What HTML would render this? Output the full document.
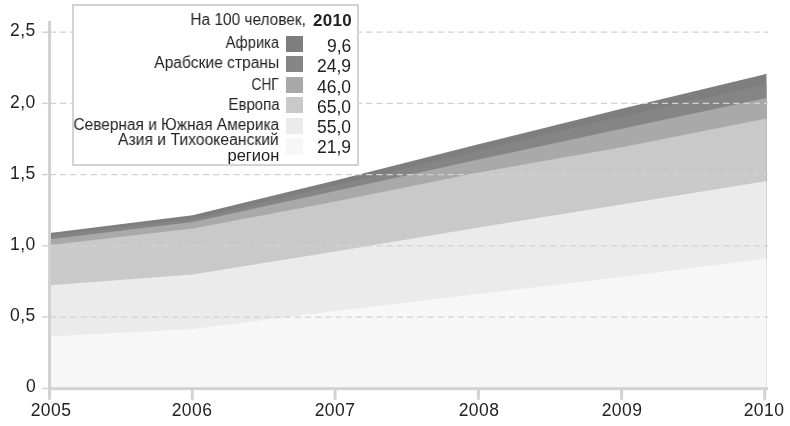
<!DOCTYPE html>
<html><head><meta charset="utf-8"><style>
html,body{margin:0;padding:0;background:#fff;width:790px;height:426px;overflow:hidden;}
body{position:relative;font-family:"Liberation Sans",sans-serif;color:#222;}
.yl,.xl,.lab,.val,.title,.t2010{will-change:transform;}
svg{position:absolute;left:0;top:0;}
.yl{position:absolute;right:754px;font-size:17.5px;line-height:17.5px;white-space:nowrap;letter-spacing:0.4px;}
.xl{position:absolute;width:60px;text-align:center;font-size:17.5px;line-height:17.5px;letter-spacing:0.4px;}
.legend{position:absolute;left:72px;top:4px;width:283px;height:158px;border:2px solid #d3d3d3;background:#fff;}
.lab{position:absolute;right:510.8px;font-size:16px;line-height:16px;white-space:nowrap;transform-origin:100% 50%;}
.val{position:absolute;right:439px;font-size:17.5px;line-height:17.5px;text-align:right;white-space:nowrap;}
.sw{position:absolute;left:286.3px;width:16.5px;height:16.6px;}
.title{position:absolute;right:484px;font-size:16px;line-height:16px;white-space:nowrap;transform-origin:100% 50%;}
.t2010{position:absolute;right:438px;font-size:17px;line-height:17px;font-weight:bold;letter-spacing:0.3px;white-space:nowrap;}
</style></head><body>
<svg width="790" height="426" viewBox="0 0 790 426">
<polygon points="50,233.0 192.6,215.2 335.3,180.6 478.5,144.2 621.7,108.8 766.5,73.8 766.5,388.5 621.7,388.5 478.5,388.5 335.3,388.5 192.6,388.5 50,388.5" fill="#7e7e7e"/>
<polygon points="50,235.5 192.6,219.0 335.3,185.5 478.5,150.5 621.7,116.4 766.5,84.5 766.5,388.5 621.7,388.5 478.5,388.5 335.3,388.5 192.6,388.5 50,388.5" fill="#858585"/>
<polygon points="50,239.2 192.6,222.0 335.3,190.9 478.5,159.5 621.7,128.7 766.5,98.0 766.5,388.5 621.7,388.5 478.5,388.5 335.3,388.5 192.6,388.5 50,388.5" fill="#a9a9a9"/>
<polygon points="50,245.0 192.6,228.5 335.3,201.5 478.5,172.5 621.7,147.2 766.5,118.6 766.5,388.5 621.7,388.5 478.5,388.5 335.3,388.5 192.6,388.5 50,388.5" fill="#c9c9c9"/>
<polygon points="50,285.2 192.6,274.5 335.3,251.5 478.5,227.5 621.7,204.4 766.5,181.0 766.5,388.5 621.7,388.5 478.5,388.5 335.3,388.5 192.6,388.5 50,388.5" fill="#ebebeb"/>
<polygon points="50,336.5 192.6,329.0 335.3,311.0 478.5,294.0 621.7,277.0 766.5,258.4 766.5,388.5 621.7,388.5 478.5,388.5 335.3,388.5 192.6,388.5 50,388.5" fill="#f7f7f7"/>
<line x1="49.9" y1="317.00" x2="768" y2="317.00" stroke="#d2d2d2" stroke-width="1.25" stroke-dasharray="6.3 3.9"/>
<line x1="49.9" y1="245.80" x2="768" y2="245.80" stroke="#d2d2d2" stroke-width="1.25" stroke-dasharray="6.3 3.9"/>
<line x1="49.9" y1="174.60" x2="768" y2="174.60" stroke="#d2d2d2" stroke-width="1.25" stroke-dasharray="6.3 3.9"/>
<line x1="49.9" y1="103.40" x2="768" y2="103.40" stroke="#d2d2d2" stroke-width="1.25" stroke-dasharray="6.3 3.9"/>
<line x1="49.9" y1="32.20" x2="768" y2="32.20" stroke="#d2d2d2" stroke-width="1.25" stroke-dasharray="6.3 3.9"/>
<line x1="42" y1="317.0" x2="49" y2="317.0" stroke="#d0d0d0" stroke-width="1.4"/>
<line x1="42" y1="245.8" x2="49" y2="245.8" stroke="#d0d0d0" stroke-width="1.4"/>
<line x1="42" y1="174.6" x2="49" y2="174.6" stroke="#d0d0d0" stroke-width="1.4"/>
<line x1="42" y1="103.4" x2="49" y2="103.4" stroke="#d0d0d0" stroke-width="1.4"/>
<line x1="42" y1="32.2" x2="49" y2="32.2" stroke="#d0d0d0" stroke-width="1.4"/>
<line x1="42" y1="388.5" x2="49" y2="388.5" stroke="#d0d0d0" stroke-width="1.4"/>
<rect x="48.1" y="21" width="2.9" height="378.7" fill="#d0d0d0"/>
<rect x="48.1" y="387.2" width="719.9" height="2.9" fill="#d1d1d1"/>
<rect x="190.8" y="389" width="3" height="10.7" fill="#d2d2d2"/>
<rect x="333.6" y="389" width="3" height="10.7" fill="#d2d2d2"/>
<rect x="476.9" y="389" width="3" height="10.7" fill="#d2d2d2"/>
<rect x="620.1" y="389" width="3" height="10.7" fill="#d2d2d2"/>
<rect x="763.2" y="389" width="3" height="10.7" fill="#d2d2d2"/>
</svg>
<div class="yl" style="top:378.49px">0</div>
<div class="yl" style="top:307.29px">0,5</div>
<div class="yl" style="top:236.09px">1,0</div>
<div class="yl" style="top:164.89px">1,5</div>
<div class="yl" style="top:93.69px">2,0</div>
<div class="yl" style="top:22.49px">2,5</div>
<div class="xl" style="left:20.5px;top:401.99px">2005</div>
<div class="xl" style="left:162.3px;top:401.99px">2006</div>
<div class="xl" style="left:305.3px;top:401.99px">2007</div>
<div class="xl" style="left:448.5px;top:401.99px">2008</div>
<div class="xl" style="left:591.6px;top:401.99px">2009</div>
<div class="xl" style="left:733.6px;top:401.99px">2010</div>
<div class="legend"></div>
<div class="lab" style="top:34.76px;transform:scaleX(0.921)">Африка</div>
<div class="lab" style="top:55.36px;transform:scaleX(0.975)">Арабские страны</div>
<div class="lab" style="top:76.56px;transform:scaleX(0.858)">СНГ</div>
<div class="lab" style="top:97.16px;transform:scaleX(0.937)">Европа</div>
<div class="lab" style="top:117.16px;transform:scaleX(0.965)">Северная и Южная Америка</div>
<div class="lab" style="top:131.96px;transform:scaleX(0.982)">Азия и Тихоокеанский</div>
<div class="lab" style="top:148.16px;transform:scaleX(1.03)">регион</div>
<div class="sw" style="top:35.6px;background:#7e7e7e"></div>
<div class="val" style="top:37.79px">9,6</div>
<div class="sw" style="top:55.8px;background:#858585"></div>
<div class="val" style="top:57.99px">24,9</div>
<div class="sw" style="top:76.5px;background:#a9a9a9"></div>
<div class="val" style="top:79.09px">46,0</div>
<div class="sw" style="top:96.9px;background:#c9c9c9"></div>
<div class="val" style="top:99.19px">65,0</div>
<div class="sw" style="top:117.8px;background:#ebebeb"></div>
<div class="val" style="top:119.39px">55,0</div>
<div class="sw" style="top:138.1px;background:#f7f7f7"></div>
<div class="val" style="top:139.29px">21,9</div>
<div class="title" style="top:11.96px;transform:scaleX(0.963)">На 100 человек,</div>
<div class="t2010" style="top:12.01px">2010</div>

</body></html>
